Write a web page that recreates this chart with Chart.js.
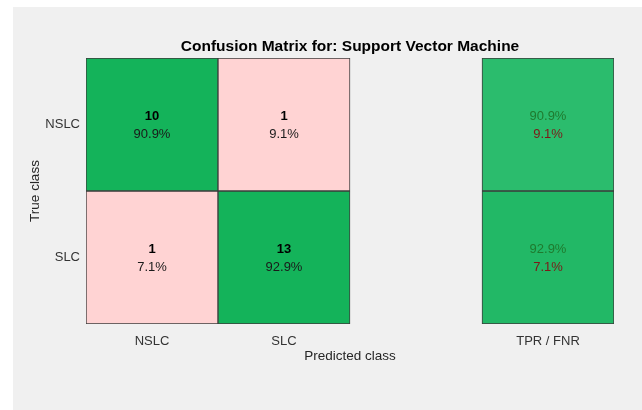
<!DOCTYPE html>
<html>
<head>
<meta charset="utf-8">
<script src="https://cdn.jsdelivr.net/npm/chart.js@4.4.1/dist/chart.umd.min.js"></script>
<style>
  html, body { margin: 0; padding: 0; background: #fff; }
  #wrap { position: absolute; left: 13px; top: 7px; width: 629px; height: 403px; background: #f0f0f0; }
</style>
</head>
<body>
<div id="wrap"><canvas id="cm" width="629" height="403"></canvas></div>
<script>
// data
const colLabels = ["NSLC", "SLC", "", "TPR / FNR"];
const rowLabels = ["NSLC", "SLC"];
const counts = [[10, 1], [1, 13]];
const cellPct = [[90.9, 9.1], [7.1, 92.9]];
const tpr = [90.9, 92.9];
const fnr = [9.1, 7.1];

const chartTitle = "Confusion Matrix for: Support Vector Machine";
const FONT = "'Liberation Sans', Arial, Helvetica, sans-serif";

const diagColor = "#14b35a";
const offColor = "#ffd3d3";
const summaryColors = ["#2bbc6d", "#22b866"];

function rowDataset(r) {
  const colors = colLabels.map((c, i) => {
    if (i < 2) return i === r ? diagColor : offColor;
    if (i === 3) return summaryColors[r];
    return "rgba(0,0,0,0)";
  });
  return {
    label: rowLabels[r],
    data: colLabels.map((c, i) => (i === 2 ? null : [1 - r, 2 - r])),
    backgroundColor: colors,
    borderColor: "#3c3c3c",
    borderWidth: 1,
    borderSkipped: false,
    barPercentage: 1,
    categoryPercentage: 1,
    grouped: false
  };
}

// text inside cells, placed at the bar elements
const cellText = {
  id: "cellText",
  afterDatasetsDraw(chart) {
    const ctx = chart.ctx;
    ctx.save();
    ctx.textAlign = "center";
    ctx.textBaseline = "middle";
    chart.data.datasets.forEach((ds, r) => {
      chart.getDatasetMeta(r).data.forEach((el, i) => {
        if (i === 2) return;
        const cy = (el.y + el.base) / 2;
        if (i < 2) {
          ctx.fillStyle = "#000";
          ctx.font = "bold 13px " + FONT;
          ctx.fillText(String(counts[r][i]), el.x, cy - 8);
          ctx.fillStyle = "#1a1a1a";
          ctx.font = "13px " + FONT;
          ctx.fillText(cellPct[r][i].toFixed(1) + "%", el.x, cy + 10);
        } else {
          ctx.font = "13px " + FONT;
          ctx.fillStyle = "#1f7a2e";
          ctx.fillText(tpr[r].toFixed(1) + "%", el.x, cy - 8);
          ctx.fillStyle = "#7d1818";
          ctx.fillText(fnr[r].toFixed(1) + "%", el.x, cy + 10);
        }
      });
    });
    // title
    const a = chart.chartArea;
    ctx.fillStyle = "#000";
    ctx.font = "bold 15.5px " + FONT;
    ctx.fillText(chartTitle, (a.left + a.right) / 2, 40);
    ctx.restore();
  }
};

new Chart(document.getElementById("cm"), {
  type: "bar",
  data: {
    labels: colLabels,
    datasets: [rowDataset(0), rowDataset(1)]
  },
  options: {
    responsive: false,
    animation: false,
    layout: { padding: { top: 51, right: 28, left: 0, bottom: 0 } },
    plugins: {
      legend: { display: false },
      tooltip: { enabled: false }
    },
    scales: {
      x: {
        type: "category",
        grid: { display: false, tickLength: 0 },
        border: { display: false },
        ticks: {
          autoSkip: false, maxRotation: 0, padding: 10,
          color: "#333", font: { family: FONT, size: 13 }
        },
        title: {
          display: true, text: "Predicted class", color: "#262626",
          font: { family: FONT, size: 13.5 }, padding: { top: 0, bottom: 46 }
        },
        afterFit: (s) => { s.height = 86; }
      },
      y: {
        type: "linear",
        min: 0,
        max: 2,
        grid: { display: false, tickLength: 0 },
        border: { display: false },
        afterBuildTicks: (s) => { s.ticks = [{ value: 0.5 }, { value: 1.5 }]; },
        ticks: {
          padding: 6, color: "#333", font: { family: FONT, size: 13 },
          callback: (v) => (v > 1 ? rowLabels[0] : rowLabels[1])
        },
        title: {
          display: true, text: "True class", color: "#262626",
          font: { family: FONT, size: 13.5 }, padding: { top: 14, bottom: 0 }
        },
        afterFit: (s) => { s.width = 73; }
      }
    }
  },
  plugins: [cellText]
});
</script>
</body>
</html>
